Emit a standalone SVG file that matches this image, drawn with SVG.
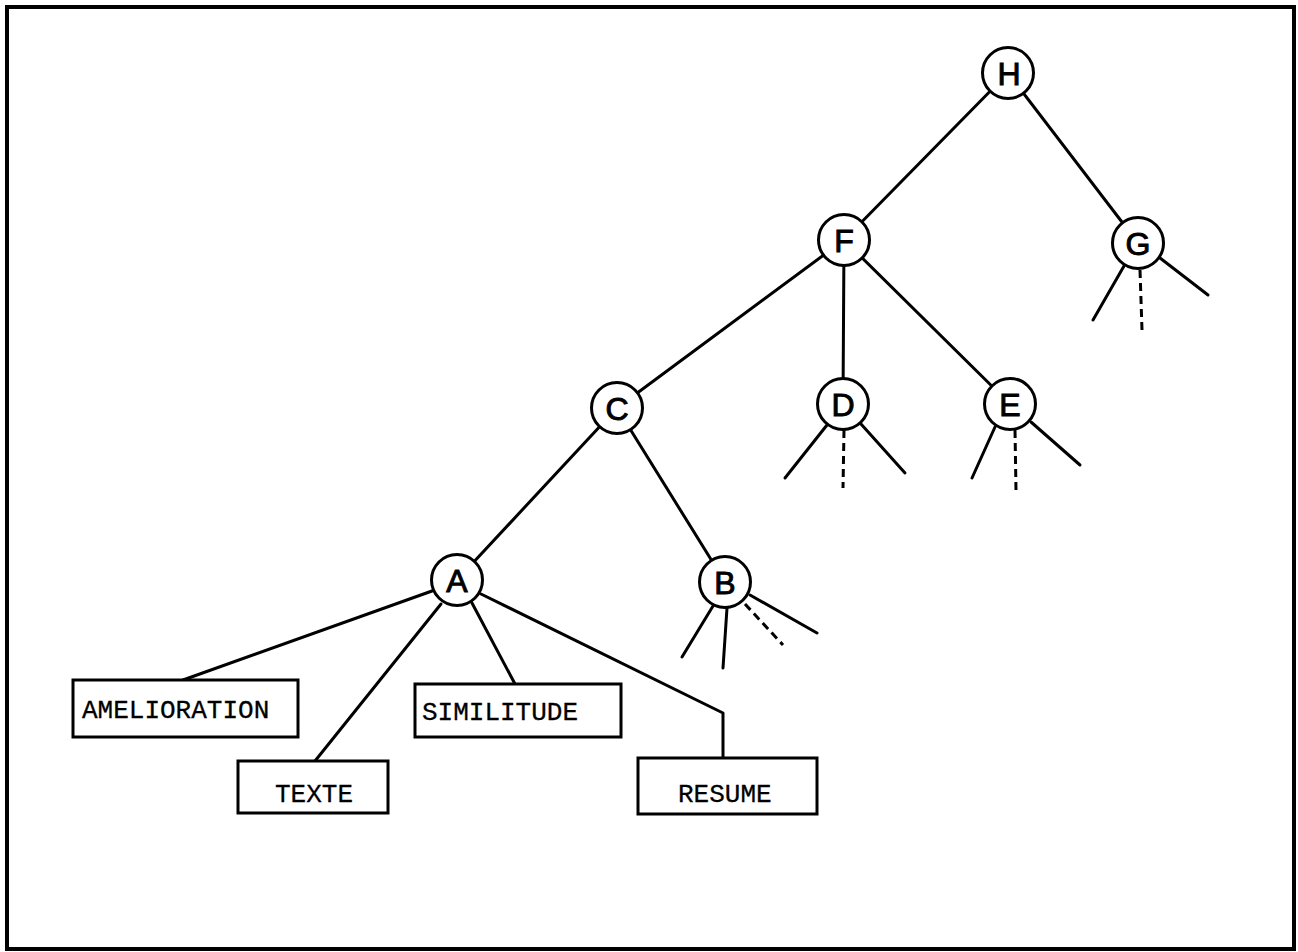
<svg xmlns="http://www.w3.org/2000/svg" width="1298" height="952" viewBox="0 0 1298 952">
  <style>
    .frame { fill: none; stroke: #000; stroke-width: 4; }
    .edge { fill: none; stroke: #000; stroke-width: 3; stroke-linecap: round; stroke-linejoin: round; }
    .dash { fill: none; stroke: #000; stroke-width: 3; stroke-dasharray: 8 5; }
    .node circle { fill: #fff; stroke: #000; stroke-width: 3; }
    .node text { font-family: "Liberation Sans", "DejaVu Sans", sans-serif; font-size: 32px; text-anchor: middle; fill: #000; stroke: #000; stroke-width: 1; }
    .leaf rect { fill: #fff; stroke: #000; stroke-width: 3; }
    .leaf text { font-family: "Liberation Mono", "DejaVu Sans Mono", monospace; font-size: 26px; fill: #000; stroke: #000; stroke-width: 0.3; }
  </style>

  <rect class="frame" x="7" y="7" width="1287" height="942"/>

  <g id="connectors">
    <!-- tree edges -->
    <line class="edge" x1="1008" y1="73" x2="844" y2="240"/>
    <line class="edge" x1="1008" y1="73" x2="1138" y2="243"/>
    <line class="edge" x1="844" y1="240" x2="617" y2="408"/>
    <line class="edge" x1="844" y1="240" x2="843" y2="404"/>
    <line class="edge" x1="844" y1="240" x2="1010" y2="404"/>
    <line class="edge" x1="617" y1="408" x2="457" y2="580"/>
    <line class="edge" x1="617" y1="408" x2="725" y2="582"/>
    <!-- A to its leaves -->
    <line class="edge" x1="432" y1="591" x2="183" y2="680"/>
    <line class="edge" x1="441" y1="604" x2="315" y2="761"/>
    <line class="edge" x1="472" y1="603" x2="515" y2="684"/>
    <polyline class="edge" points="481,594 723,713 723,758"/>
    <!-- open subtrees under G -->
    <line class="edge" x1="1124" y1="266" x2="1093" y2="320"/>
    <line class="dash" x1="1140" y1="270" x2="1142" y2="330"/>
    <line class="edge" x1="1160" y1="258" x2="1208" y2="295"/>
    <!-- open subtrees under D -->
    <line class="edge" x1="827" y1="425" x2="785" y2="478"/>
    <line class="dash" x1="844" y1="430" x2="843" y2="488"/>
    <line class="edge" x1="861" y1="424" x2="905" y2="473"/>
    <!-- open subtrees under E -->
    <line class="edge" x1="995" y1="427" x2="972" y2="478"/>
    <line class="dash" x1="1015" y1="430" x2="1016" y2="490"/>
    <line class="edge" x1="1031" y1="422" x2="1080" y2="465"/>
    <!-- open subtrees under B -->
    <line class="edge" x1="713" y1="606" x2="682" y2="657"/>
    <line class="edge" x1="727" y1="608" x2="723" y2="668"/>
    <line class="dash" x1="745" y1="604" x2="783" y2="645"/>
    <line class="edge" x1="750" y1="595" x2="817" y2="633"/>
  </g>

  <g id="node-H" class="node"><circle cx="1008" cy="73" r="25.5"/><text x="1009" y="85">H</text></g>
  <g id="node-F" class="node"><circle cx="844" cy="240" r="25.5"/><text x="844" y="252">F</text></g>
  <g id="node-G" class="node"><circle cx="1138" cy="243" r="25.5"/><text x="1138" y="255">G</text></g>
  <g id="node-C" class="node"><circle cx="617" cy="408" r="25.5"/><text x="617" y="420">C</text></g>
  <g id="node-D" class="node"><circle cx="843" cy="404" r="25.5"/><text x="843" y="416">D</text></g>
  <g id="node-E" class="node"><circle cx="1010" cy="404" r="25.5"/><text x="1010" y="416">E</text></g>
  <g id="node-A" class="node"><circle cx="457" cy="580" r="25.5"/><text x="457" y="592">A</text></g>
  <g id="node-B" class="node"><circle cx="725" cy="582" r="25.5"/><text x="725" y="594">B</text></g>

  <g id="leaf-amelioration" class="leaf"><rect x="73" y="680" width="225" height="57"/><text x="82" y="718">AMELIORATION</text></g>
  <g id="leaf-texte" class="leaf"><rect x="238" y="761" width="150" height="52"/><text x="275" y="802">TEXTE</text></g>
  <g id="leaf-similitude" class="leaf"><rect x="415" y="684" width="206" height="53"/><text x="422" y="720">SIMILITUDE</text></g>
  <g id="leaf-resume" class="leaf"><rect x="638" y="758" width="179" height="56"/><text x="678" y="802">RESUME</text></g>
</svg>
